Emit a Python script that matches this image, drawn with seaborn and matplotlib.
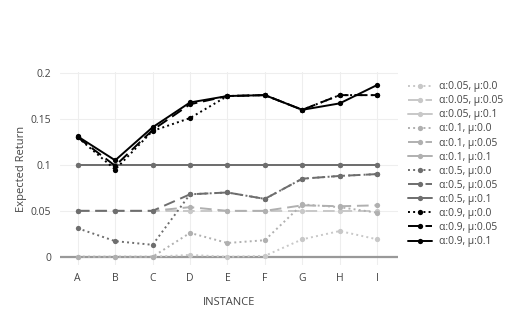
import numpy as np
import pandas as pd
import matplotlib
matplotlib.use("Agg")
import matplotlib.pyplot as plt
import seaborn as sns

# ------------------------------------------------------------------
# Datos
# ------------------------------------------------------------------
instances = ["A", "B", "C", "D", "E", "F", "G", "H", "I"]

a005_m00 = [0.0, 0.0, 0.0, 0.002, 0.0, 0.001, 0.019, 0.028, 0.019]
a005_m005 = [0.05, 0.05, 0.05, 0.05, 0.05, 0.05, 0.05, 0.05, 0.05]
a005_m01 = [0.1, 0.1, 0.1, 0.1, 0.1, 0.1, 0.1, 0.1, 0.1]
a01_m00 = [0.0, 0.0, 0.0, 0.026, 0.015, 0.018, 0.057, 0.054, 0.048]
a01_m005 = [0.05, 0.05, 0.05, 0.054, 0.05, 0.05, 0.056, 0.055, 0.056]
a01_m01 = [0.1, 0.1, 0.1, 0.1, 0.1, 0.1, 0.1, 0.1, 0.1]
a05_m00 = [0.031, 0.017, 0.013, 0.068, 0.070, 0.063, 0.085, 0.088, 0.090]
a05_m005 = [0.05, 0.05, 0.05, 0.068, 0.070, 0.063, 0.085, 0.088, 0.090]
a05_m01 = [0.1, 0.1, 0.1, 0.1, 0.1, 0.1, 0.1, 0.1, 0.1]
a09_m00 = [0.130, 0.095, 0.137, 0.151, 0.175, 0.176, 0.160, 0.176, 0.176]
a09_m005 = [0.130, 0.099, 0.138, 0.166, 0.175, 0.176, 0.160, 0.176, 0.176]
a09_m01 = [0.131, 0.105, 0.141, 0.168, 0.175, 0.176, 0.160, 0.167, 0.187]

series = [
    ("α:0.05, μ:0.0", a005_m00, "#c8c8c8", ":"),
    ("α:0.05, μ:0.05", a005_m005, "#c8c8c8", (0, (6, 3))),
    ("α:0.05, μ:0.1", a005_m01, "#c8c8c8", "-"),
    ("α:0.1, μ:0.0", a01_m00, "#b0b0b0", ":"),
    ("α:0.1, μ:0.05", a01_m005, "#b0b0b0", (0, (6, 3))),
    ("α:0.1, μ:0.1", a01_m01, "#b0b0b0", "-"),
    ("α:0.5, μ:0.0", a05_m00, "#6e6e6e", ":"),
    ("α:0.5, μ:0.05", a05_m005, "#6e6e6e", (0, (6, 3))),
    ("α:0.5, μ:0.1", a05_m01, "#6e6e6e", "-"),
    ("α:0.9, μ:0.0", a09_m00, "#000000", ":"),
    ("α:0.9, μ:0.05", a09_m005, "#000000", (0, (6, 3))),
    ("α:0.9, μ:0.1", a09_m01, "#000000", "-"),
]

# ------------------------------------------------------------------
# Figura
# ------------------------------------------------------------------
sns.set_style("white")
plt.rcParams["font.family"] = ["Open Sans", "DejaVu Sans"]

fig = plt.figure(figsize=(5.11, 3.28), dpi=100)
ax = fig.add_axes([0.117, 0.192, 0.662, 0.588])

xpos = np.arange(len(instances))
ax.axhline(0, color="#999999", lw=1.6, zorder=1)

for label, vals, color, ls in series:
    sns.lineplot(x=xpos, y=vals, ax=ax, color=color, linestyle=ls,
                 marker="o", markersize=3.8, markeredgewidth=0,
                 linewidth=1.4, label=label, zorder=3)

ax.set_xlim(-0.48, 8.56)
ax.set_ylim(-0.009, 0.201)
ax.set_xticks(xpos)
ax.set_xticklabels(instances)
ax.set_yticks([0, 0.05, 0.1, 0.15, 0.2])
ax.set_yticklabels(["0", "0.05", "0.1", "0.15", "0.2"])
ax.grid(True, color="#eeeeee", lw=0.8)
ax.set_axisbelow(True)
for s in ax.spines.values():
    s.set_visible(False)
ax.tick_params(length=0, labelsize=7.5, colors="#444444", pad=6)

ax.set_xlabel("INSTANCE", fontsize=8, color="#444444", labelpad=9)
ax.set_ylabel("Expected Return", fontsize=8, color="#444444", labelpad=3)

ax.legend(loc="upper left", bbox_to_anchor=(0.79, 0.765),
          bbox_transform=fig.transFigure, frameon=False, fontsize=7.4,
          labelcolor="#444444", handlelength=2.4, handletextpad=0.6,
          labelspacing=0.3, borderaxespad=0)

fig.savefig("out.png", dpi=100)
